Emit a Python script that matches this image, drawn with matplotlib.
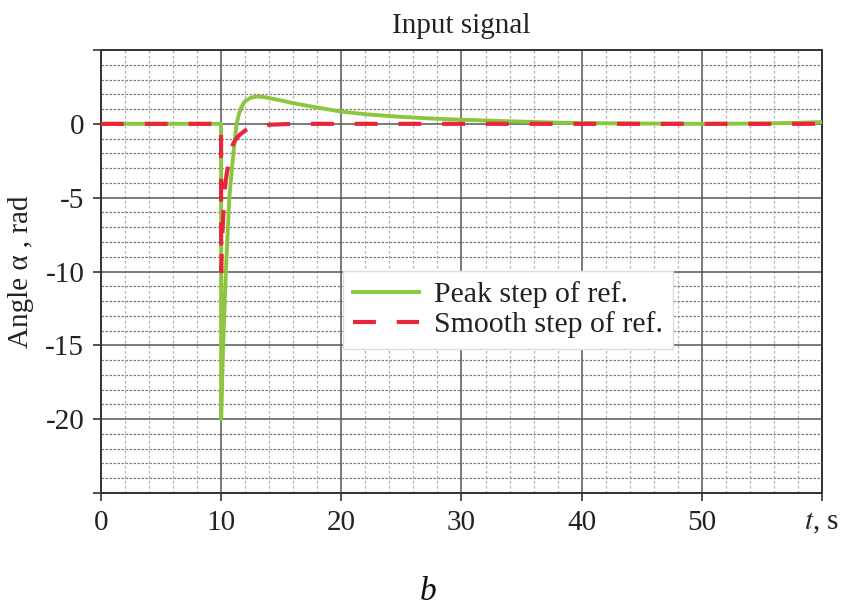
import numpy as np
import matplotlib
matplotlib.use("Agg")
import matplotlib.pyplot as plt
from matplotlib.ticker import MultipleLocator

plt.rcParams['font.family'] = ['Liberation Serif', 'DejaVu Serif']
plt.rcParams['mathtext.fontset'] = 'stix'

# peak step of reference (green, solid)
t_peak = [0, 9.99, 10.0, 10.08, 10.17, 10.39, 10.68, 10.9, 11.1, 11.28, 11.5, 11.7,
          12.0, 12.5, 13.0, 13.5, 14.0, 15.0, 16.0, 18.0, 20.0, 22.0, 25.0, 28.0,
          30.0, 33.0, 35.0, 38.0, 40.0, 45.0, 50.0, 55.0, 58.0, 60.0]
y_peak = [0, 0, -20, -17.5, -15, -10, -5, -3, -1.4, 0, 0.7, 1.15,
          1.55, 1.78, 1.85, 1.82, 1.75, 1.58, 1.4, 1.1, 0.83, 0.65, 0.47, 0.34,
          0.28, 0.2, 0.15, 0.08, 0.05, 0.02, 0.0, 0.02, 0.07, 0.12]

# smooth step of reference (red, dashed)
t_smooth = [0, 9.99, 10.0, 10.1, 10.2, 10.35, 10.5, 10.8, 11.0, 11.3, 11.6, 12.0,
            12.5, 13.0, 14.0, 15.0, 16.0, 20.0, 30.0, 40.0, 50.0, 60.0]
y_smooth = [0, 0, -10, -7.5, -5.8, -4.0, -3.2, -1.9, -1.35, -0.95, -0.7, -0.45,
            -0.25, -0.12, -0.06, -0.03, 0, 0, 0, 0, 0, 0]

x_ticks = [0, 10, 20, 30, 40, 50, 60]
x_labels = ['0', '10', '20', '30', '40', '50', '$t$, s']
y_ticks = [-25, -20, -15, -10, -5, 0, 5]
y_labels = ['', '-20', '-15', '-10', '-5', '0', '']

fig = plt.figure(figsize=(8.45, 6.12), dpi=100)
ax = fig.add_axes([0.1195, 0.1944, 0.8533, 0.7239])

ax.plot(t_peak, y_peak, color='#8cc63f', lw=2.8, label='Peak step of ref.', zorder=3)
ax.plot(t_smooth, y_smooth, color='#e8263a', lw=3.0, dashes=(5.5, 5.0),
        label='Smooth step of ref.', zorder=4)

ax.set_xlim(0, 60)
ax.set_ylim(-25, 5)
ax.set_xticks(x_ticks)
ax.set_xticklabels(x_labels)
ax.set_yticks(y_ticks)
ax.set_yticklabels(y_labels)
ax.xaxis.set_minor_locator(MultipleLocator(2))
ax.yaxis.set_minor_locator(MultipleLocator(1))

ax.grid(which='major', color='#555555', lw=1.1, ls='-', zorder=1)
ax.xaxis.grid(which='minor', color='#b0b0b0', lw=0.9, ls=(0, (2, 2)))
ax.yaxis.grid(which='minor', color='#808080', lw=0.9, ls=(0, (2, 1.2)))
ax.set_axisbelow(True)

ax.tick_params(which='major', direction='out', length=6, width=1.2, colors='#333333',
               labelsize=21, labelcolor='#222222', pad=6)
ax.tick_params(which='minor', length=0)
for s in ax.spines.values():
    s.set_color('#333333')
    s.set_linewidth(1.4)

ax.set_ylabel('Angle α , rad', fontsize=21, color='#222222', labelpad=8)
ax.set_title('Input signal', fontsize=21, color='#222222', pad=12)

leg = ax.legend(loc='upper left', bbox_to_anchor=(0.3356, 0.501), borderaxespad=0,
                fontsize=21.5, frameon=True, fancybox=False, handlelength=2.2,
                handletextpad=0.5, borderpad=0.35, labelspacing=0.1)
leg.get_frame().set_edgecolor('#dddddd')
leg.get_frame().set_alpha(1)
for txt in leg.get_texts():
    txt.set_color('#222222')

fig.text(0.507, 0.033, 'b', fontsize=24, style='italic', ha='center', va='center',
         color='#111111')

fig.savefig('out.png', dpi=100)
